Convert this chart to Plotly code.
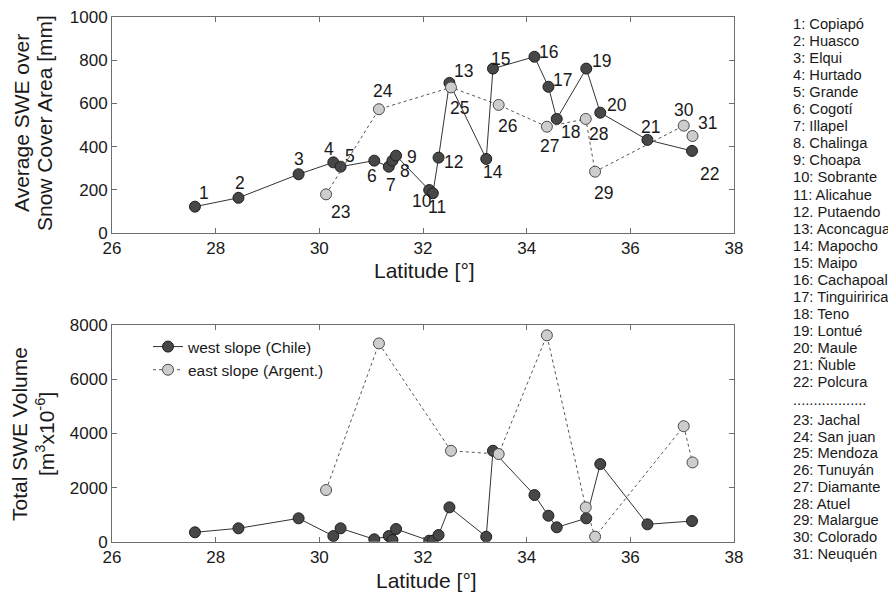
import plotly.graph_objects as go

# ---------------- data ----------------
west_ids = list(range(1, 23))
west_lat = [27.60, 28.44, 29.60, 30.27, 30.41, 31.06, 31.34, 31.41, 31.48, 32.12, 32.19,
            32.30, 32.51, 33.22, 33.35, 34.15, 34.42, 34.58, 35.15, 35.42, 36.33, 37.19]
west_avg_swe = [122, 163, 272, 327, 307, 335, 307, 335, 358, 199, 184,
                349, 695, 343, 761, 816, 677, 528, 761, 557, 431, 380]
west_total_vol = [347, 495, 864, 210, 495, 89, 210, 63, 469, 37, 40,
                  247, 1270, 185, 3360, 1725, 960, 532, 864, 2870, 642, 764]

east_ids = list(range(23, 32))
east_lat = [30.13, 31.15, 32.54, 33.46, 34.39, 35.14, 35.32, 37.03, 37.20]
east_avg_swe = [179, 573, 674, 593, 492, 528, 284, 497, 449]
east_total_vol = [1910, 7330, 3360, 3240, 7630, 1270, 185, 4270, 2930]

basin_names = ["1: Copiapó", "2: Huasco", "3: Elqui", "4: Hurtado", "5: Grande",
               "6: Cogotí", "7: Illapel", "8. Chalinga", "9: Choapa", "10: Sobrante",
               "11: Alicahue", "12. Putaendo", "13: Aconcagua", "14: Mapocho",
               "15: Maipo", "16: Cachapoal", "17: Tinguiririca", "18: Teno",
               "19: Lontué", "20: Maule", "21: Ñuble", "22: Polcura"]
east_basin_names = ["23: Jachal", "24: San juan", "25: Mendoza", "26: Tunuyán",
                    "27: Diamante", "28: Atuel", "29: Malargue", "30: Colorado",
                    "31: Neuquén"]

x_ticks = [26, 28, 30, 32, 34, 36, 38]
top_y_ticks = [0, 200, 400, 600, 800, 1000]
bot_y_ticks = [0, 2000, 4000, 6000, 8000]

# label offsets in pixels (dx right, dy down) for point numbers in top panel
label_offsets = {
    1: (9, -14), 2: (2, -15), 3: (0, -15), 4: (-4, -13), 5: (9, -11), 6: (-2, 15),
    7: (2, 18), 8: (13, 10), 9: (16, 1), 10: (-7, 11), 11: (4, 14), 12: (15, 4),
    13: (14, -12), 14: (7, 13), 15: (8, -10), 16: (14, -5), 17: (14, -7), 18: (14, 13),
    19: (15, -8), 20: (17, -8), 21: (3, -13), 22: (17, 23), 23: (14, 18), 24: (4, -18),
    25: (9, 21), 26: (9, 21), 27: (3, 19), 28: (13, 15), 29: (8, 21), 30: (0, -16),
    31: (15, -13),
}

# ---------------- styling ----------------
FONT = "Liberation Sans, Arial, sans-serif"
TXT = "#1a1a1a"
FRAME = "#6e6e6e"
DARK_FILL, DARK_EDGE = "#474747", "#1e1e1e"
LIGHT_FILL, LIGHT_EDGE = "#cdcdcd", "#4a4a4a"
MS = 11

# the page body adds an 8px margin; lay out in window pixels and compensate
OFF = 8
W, H = 896 - OFF, 593 - OFF

def px(x):
    return (x - OFF) / W

def py(y):
    return 1 - (y - OFF) / H

xdom = [px(112), px(734)]
top_dom = [py(233), py(17)]
bot_dom = [py(541.7), py(325.3)]

fig = go.Figure()

west_marker = dict(size=MS, color=DARK_FILL, line=dict(color=DARK_EDGE, width=1))
east_marker = dict(size=MS, color=LIGHT_FILL, line=dict(color=LIGHT_EDGE, width=1))

fig.add_trace(go.Scatter(x=west_lat, y=west_avg_swe, mode="lines+markers",
                         line=dict(color="#333333", width=1), marker=west_marker,
                         showlegend=False, xaxis="x", yaxis="y"))
fig.add_trace(go.Scatter(x=east_lat, y=east_avg_swe, mode="lines+markers",
                         line=dict(color="#555555", width=1, dash="dot"), marker=east_marker,
                         showlegend=False, xaxis="x", yaxis="y"))
fig.add_trace(go.Scatter(x=west_lat, y=west_total_vol, mode="lines+markers",
                         name="west slope (Chile)",
                         line=dict(color="#333333", width=1), marker=west_marker,
                         xaxis="x2", yaxis="y2"))
fig.add_trace(go.Scatter(x=east_lat, y=east_total_vol, mode="lines+markers",
                         name="east slope (Argent.)",
                         line=dict(color="#555555", width=1, dash="dot"), marker=east_marker,
                         xaxis="x2", yaxis="y2"))

axis_common = dict(showline=True, linecolor=FRAME, linewidth=1, mirror="allticks",
                   ticks="inside", ticklen=5, tickcolor=FRAME, tickwidth=1,
                   showgrid=False, zeroline=False, ticklabeloverflow="allow",
                   tickfont=dict(family=FONT, size=17, color=TXT))

fig.update_layout(
    width=W, height=H,
    margin=dict(l=0, r=0, t=0, b=0, autoexpand=False),
    paper_bgcolor="white", plot_bgcolor="white",
    font=dict(family=FONT, color=TXT),
    xaxis=dict(domain=xdom, range=[26, 38], tickvals=x_ticks, anchor="y", **axis_common),
    yaxis=dict(domain=top_dom, range=[0, 1000], tickvals=top_y_ticks, anchor="x", **axis_common),
    xaxis2=dict(domain=xdom, range=[26, 38], tickvals=x_ticks, anchor="y2", **axis_common),
    yaxis2=dict(domain=bot_dom, range=[0, 8000], tickvals=bot_y_ticks, anchor="x2", **axis_common),
    legend=dict(x=px(148), y=py(330), xanchor="left", yanchor="top",
                bgcolor="rgba(0,0,0,0)", borderwidth=0,
                font=dict(family=FONT, size=15.5, color=TXT)),
    showlegend=True,
)

annotations = []
# point number labels (top panel)
for ids, lats, vals in ((west_ids, west_lat, west_avg_swe), (east_ids, east_lat, east_avg_swe)):
    for i, la, v in zip(ids, lats, vals):
        dx, dy = label_offsets[i]
        annotations.append(dict(x=la, y=v, xref="x", yref="y", text=str(i),
                                showarrow=False, xshift=dx, yshift=-dy,
                                xanchor="center", yanchor="middle",
                                font=dict(family=FONT, size=17.5, color=TXT)))

def paper_note(x, y, text, **kw):
    d = dict(x=px(x), y=py(y), xref="paper", yref="paper", text=text,
             showarrow=False, yanchor="middle")
    d.update(kw)
    return d

# axis titles
title_font = dict(family=FONT, size=21, color=TXT)
annotations.append(paper_note(424, 270, "Latitude [°]", xanchor="center", font=title_font))
annotations.append(paper_note(426, 580, "Latitude [°]", xanchor="center", font=title_font))
annotations.append(paper_note(22, 123, "Average SWE over", xanchor="center",
                              textangle=-90, font=title_font))
annotations.append(paper_note(45, 123, "Snow Cover Area [mm]", xanchor="center",
                              textangle=-90, font=title_font))
annotations.append(paper_note(19, 434, "Total SWE Volume", xanchor="center",
                              textangle=-90, font=title_font))
annotations.append(paper_note(45, 434, "[m<sup>3</sup>x10<sup>-6</sup>]", xanchor="center",
                              textangle=-90, font=title_font))

# basin list on the right
list_font = dict(family=FONT, size=14.7, color=TXT)
for k, name in enumerate(basin_names):
    annotations.append(paper_note(791, 24 + 17.05 * k, name, xanchor="left", font=list_font))
annotations.append(paper_note(791, 400, "..................", xanchor="left", font=list_font))
for k, name in enumerate(east_basin_names):
    annotations.append(paper_note(791, 420 + 16.7 * k, name, xanchor="left", font=list_font))

fig.update_layout(annotations=annotations)
fig.write_html("out.html")
